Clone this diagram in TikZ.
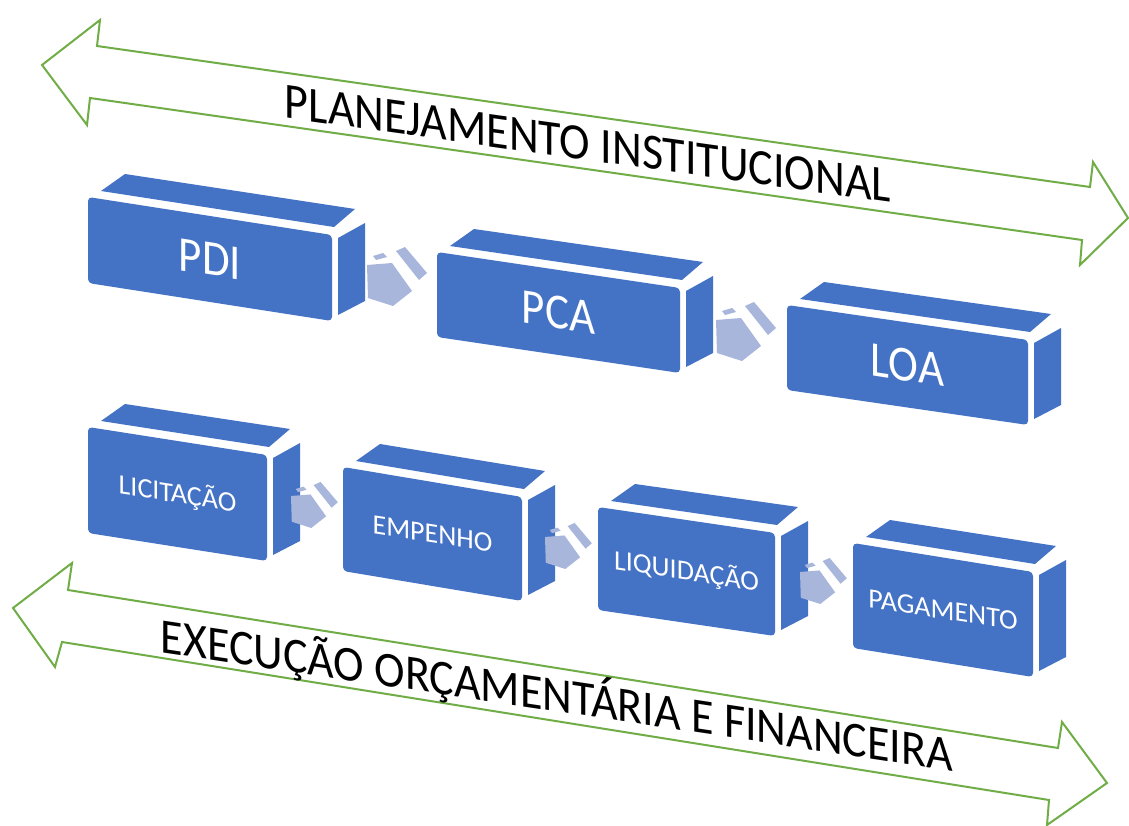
\documentclass[tikz,border=0pt]{standalone}
\usepackage{fontspec}
\setmainfont{Carlito}
\usetikzlibrary{calc}
\definecolor{boxblue}{RGB}{68,114,196}
\definecolor{arrowblue}{RGB}{168,182,220}
\definecolor{framegreen}{RGB}{112,173,71}
\newcommand\bluecube[6]{%
  \coordinate (#1-tl) at (#2,#3);
  \coordinate (#1-tr) at ($(#1-tl)+(#4,#5)$);
  \coordinate (#1-br) at ($(#1-tr)+(0,#6)$);
  \coordinate (#1-bl) at ($(#1-tl)+(0,#6)$);
  \coordinate (#1-c) at ($(#1-tl)!0.5!(#1-br)$);
  \fill[boxblue] ($(#1-tl)+(13,-6)$) -- ($(#1-tl)+(37,-23)$) -- ($(#1-tr)+(23,-26)$) -- ($(#1-tr)+(2,-8)$) -- cycle;
  \fill[boxblue] ($(#1-tr)+(6,3)$) -- ($(#1-tr)+(33,-12)$) -- ($(#1-br)+(33,-20)$) -- ($(#1-br)+(6,-6)$) -- cycle;
  \fill[boxblue, rounded corners=4] (#1-tl) -- (#1-tr) -- (#1-br) -- (#1-bl) -- cycle;
}
\newcommand\flowarrow[3]{%
  \begin{scope}[shift={(#1,#2)}, scale=#3]
    \fill[arrowblue] (0,0) -- (25,-2) -- (45,26) -- (26,41) -- (1,33) -- cycle;
    \fill[arrowblue] (6,-9) -- (16,-12) -- (20,-8) -- (9,-5) -- cycle;
    \fill[arrowblue] (29,-14) -- (38,-18) -- (60,8) -- (52,15) -- cycle;
  \end{scope}}
\tikzset{
  bigbox/.style={text=white, font=\fontsize{50}{50}\selectfont, yslant=-0.155, xscale=0.9, inner sep=0pt},
  smallbox/.style={text=white, font=\fontsize{28}{28}\selectfont, yslant=-0.155, inner sep=0pt},
  biglabel/.style={text=black, font=\fontsize{46}{46}\selectfont, inner sep=0pt},
  greenframe/.style={draw=framegreen, line width=2, line join=miter, fill=white}
}
\begin{document}
\begin{tikzpicture}[x=1pt, y=-1pt]
\useasboundingbox (0,0) rectangle (1129,826);
\fill[white] (0,0) rectangle (1129,826);
% green double arrows
\draw[greenframe] (42,65) -- (100,20) -- (97,46) -- (1090,187) -- (1093,162) -- (1128,218) -- (1080,265) -- (1082,240) -- (90,98) -- (87,125) -- cycle;
\draw[greenframe] (13,608) -- (72,563) -- (68,590) -- (1058,748) -- (1062,722) -- (1107,783) -- (1047,825) -- (1049,800) -- (62,642) -- (55,667) -- cycle;
\node[biglabel, yslant=-0.14, yscale=1.1] (plan) at (588,144) {PLANEJAMENTO INSTITUCIONAL};
\node[biglabel, yslant=-0.15, yscale=1.08] (exec) at (557,695) {EXECUÇÃO ORÇAMENTÁRIA E FINANCEIRA};
% top row
\bluecube{pdi}{88}{197}{244}{38}{86}
\bluecube{pca}{437}{252}{243}{36}{85}
\bluecube{loa}{787}{305}{241}{35}{85}
\node[bigbox] (tpdi) at (pdi-c) {PDI};
\node[bigbox] (tpca) at (pca-c) {PCA};
\node[bigbox] (tloa) at (loa-c) {LOA};
\flowarrow{367}{265}{1}
\flowarrow{716}{320}{1}
% bottom row
\bluecube{lic}{88}{427}{179}{28}{106}
\bluecube{emp}{343}{467}{179}{30}{104}
\bluecube{liq}{598}{507}{177}{26}{103}
\bluecube{pag}{853}{543}{180}{29}{105}
\node[smallbox] (tlic) at (lic-c) {LICITAÇÃO};
\node[smallbox] (temp) at (emp-c) {EMPENHO};
\node[smallbox] (tliq) at (liq-c) {LIQUIDAÇÃO};
\node[smallbox] (tpag) at (pag-c) {PAGAMENTO};
\flowarrow{291}{496}{0.78}
\flowarrow{545}{537}{0.78}
\flowarrow{800}{572}{0.78}
\end{tikzpicture}
\end{document}
